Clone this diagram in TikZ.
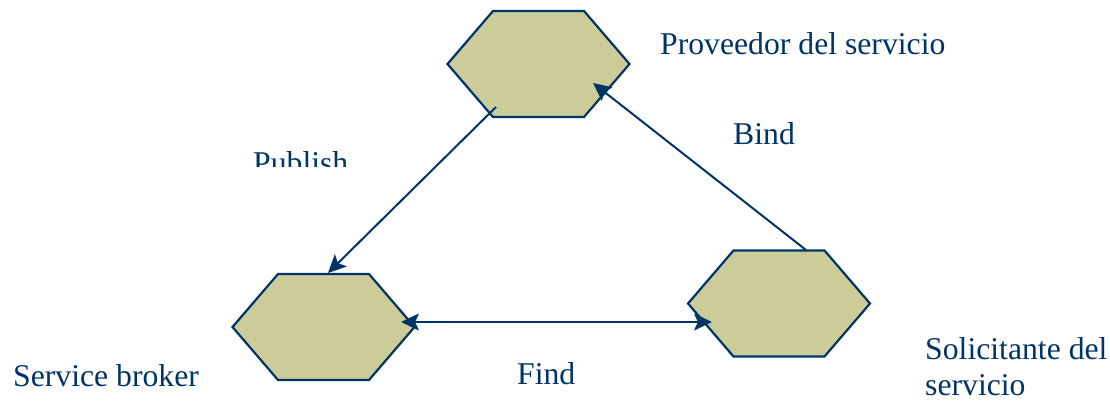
\documentclass[tikz,border=0pt]{standalone}
\usepackage{fontspec}
\setmainfont{Liberation Serif}
\usetikzlibrary{arrows.meta}
\definecolor{hexfill}{HTML}{CCCC99}
\definecolor{navy}{HTML}{003366}
\tikzset{
  hexagon/.style={draw=navy, fill=hexfill, line width=2.2pt, line join=miter},
  tipshape/.style={},
  conn/.style={draw=navy, line width=2pt, -{Stealth[length=18pt,width=17pt,inset=4pt]}},
  biconn/.style={draw=navy, line width=2pt, {Stealth[length=18pt,width=17pt,inset=4pt]}-{Stealth[length=18pt,width=17pt,inset=4pt]}},
  lbl/.style={text=navy, font=\fontsize{31.7}{36}\selectfont, inner sep=0pt, anchor=base west}
}
\newcommand{\hexat}[2]{%
  \path[hexagon] (#1-91,#2) -- (#1-45.5,#2-53) -- (#1+45.5,#2-53) -- (#1+91,#2)
    -- (#1+45.5,#2+53) -- (#1-45.5,#2+53) -- cycle;}
\begin{document}
\begin{tikzpicture}[x=1pt,y=-1pt]
\useasboundingbox (0,0) rectangle (1110,401);
% hexagons
\hexat{538.5}{64}
\hexat{323.5}{327}
\hexat{779}{303.5}
% named anchor points
\coordinate (provOut) at (496,107);
\coordinate (provIn) at (593,83);
\coordinate (brokerTop) at (328,273);
\coordinate (brokerRight) at (401,322);
\coordinate (solLeft) at (712,322);
\coordinate (solTop) at (806,250);
% connectors
\draw[conn] (provOut) -- (brokerTop);
\draw[conn] (solTop) -- (provIn);
\draw[biconn] (brokerRight) -- (solLeft);
% labels
\node[lbl] (prov) at (660,55) {Proveedor del servicio};
\node[lbl] (bind) at (733,144) {Bind};
\node[lbl] (find) at (517,384) {Find};
\node[lbl] (broker) at (13,386) {Service broker};
\node[lbl] (sol1) at (925,359) {Solicitante del};
\node[lbl] (sol2) at (925,395) {servicio};
\begin{scope}
  \clip (240,140) rectangle (380,166);
  \node[lbl] (publish) at (253,173) {Publish};
\end{scope}
\end{tikzpicture}
\end{document}
